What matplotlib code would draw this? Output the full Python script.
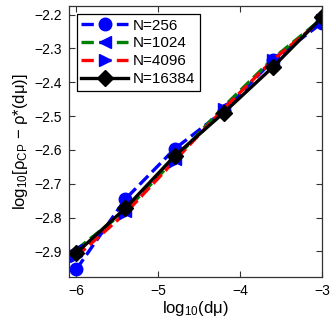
import numpy as np
import matplotlib
matplotlib.use("Agg")
import matplotlib.pyplot as plt

plt.rcParams['font.family'] = ['Liberation Sans', 'DejaVu Sans']
plt.rcParams['mathtext.fontset'] = 'custom'
plt.rcParams['mathtext.rm'] = 'Liberation Sans'
plt.rcParams['mathtext.it'] = 'Liberation Sans'

# log10(dmu) values
log_dmu = [-6.0, -5.4, -4.8, -4.2, -3.6, -3.0]

# log10[rho_CP - rho*(dmu)] for each system size
y_256 = [-2.953, -2.745, -2.597, -2.485, -2.335, -2.224]
y_1024 = [-2.895, -2.780, -2.628, -2.472, -2.330, -2.212]
y_4096 = [-2.915, -2.787, -2.632, -2.478, -2.334, -2.215]
y_16384 = [-2.905, -2.772, -2.618, -2.490, -2.355, -2.208]

labels = ["N=256", "N=1024", "N=4096", "N=16384"]

fig = plt.figure(figsize=(3.33, 3.26), dpi=100)
ax = fig.add_axes([0.207, 0.150, 0.76, 0.832])

ms = 9
ax.plot(log_dmu, y_256, linestyle='--', color='blue', lw=2.4,
        marker='o', ms=ms, mfc='blue', mec='blue', label=labels[0])
ax.plot(log_dmu, y_1024, linestyle='--', color='green', lw=2.4,
        marker='<', ms=ms, mfc='blue', mec='blue', label=labels[1])
ax.plot(log_dmu, y_4096, linestyle='--', color='red', lw=2.4,
        marker='>', ms=ms, mfc='blue', mec='blue', label=labels[2])
ax.plot(log_dmu, y_16384, linestyle='-', color='black', lw=2.4,
        marker='D', ms=8, mfc='black', mec='black', label=labels[3])

ax.set_xlim(-6.09, -3.0)
ax.set_ylim(-2.976, -2.174)
ax.set_xticks([-6, -5, -4, -3])
ax.set_yticks([-2.9, -2.8, -2.7, -2.6, -2.5, -2.4, -2.3, -2.2])
ax.set_xticklabels(['\u22126', '\u22125', '\u22124', '\u22123'])
ax.set_yticklabels(['\u22122.9', '\u22122.8', '\u22122.7', '\u22122.6',
                    '\u22122.5', '\u22122.4', '\u22122.3', '\u22122.2'])
ax.tick_params(direction='in', top=True, right=True, labelsize=10,
               length=4, width=0.8, color='#333333', pad=5)
for s in ax.spines.values():
    s.set_color('#333333')
    s.set_linewidth(0.9)

ax.set_xlabel('log$_{10}$(d\u03bc)', fontsize=12, labelpad=1)
ax.set_ylabel('log$_{10}$[\u03c1$_{\\mathrm{CP}}$ \u2212 \u03c1*(d\u03bc)]',
              fontsize=12, labelpad=3)

leg = ax.legend(loc='upper left', bbox_to_anchor=(0.03, 0.97), fontsize=11,
                handlelength=3.1, labelspacing=0.25, borderpad=0.3,
                handletextpad=0.3, borderaxespad=0, fancybox=False,
                framealpha=1, edgecolor='black')
leg.get_frame().set_linewidth(0.9)

plt.savefig('out.png', dpi=100)
